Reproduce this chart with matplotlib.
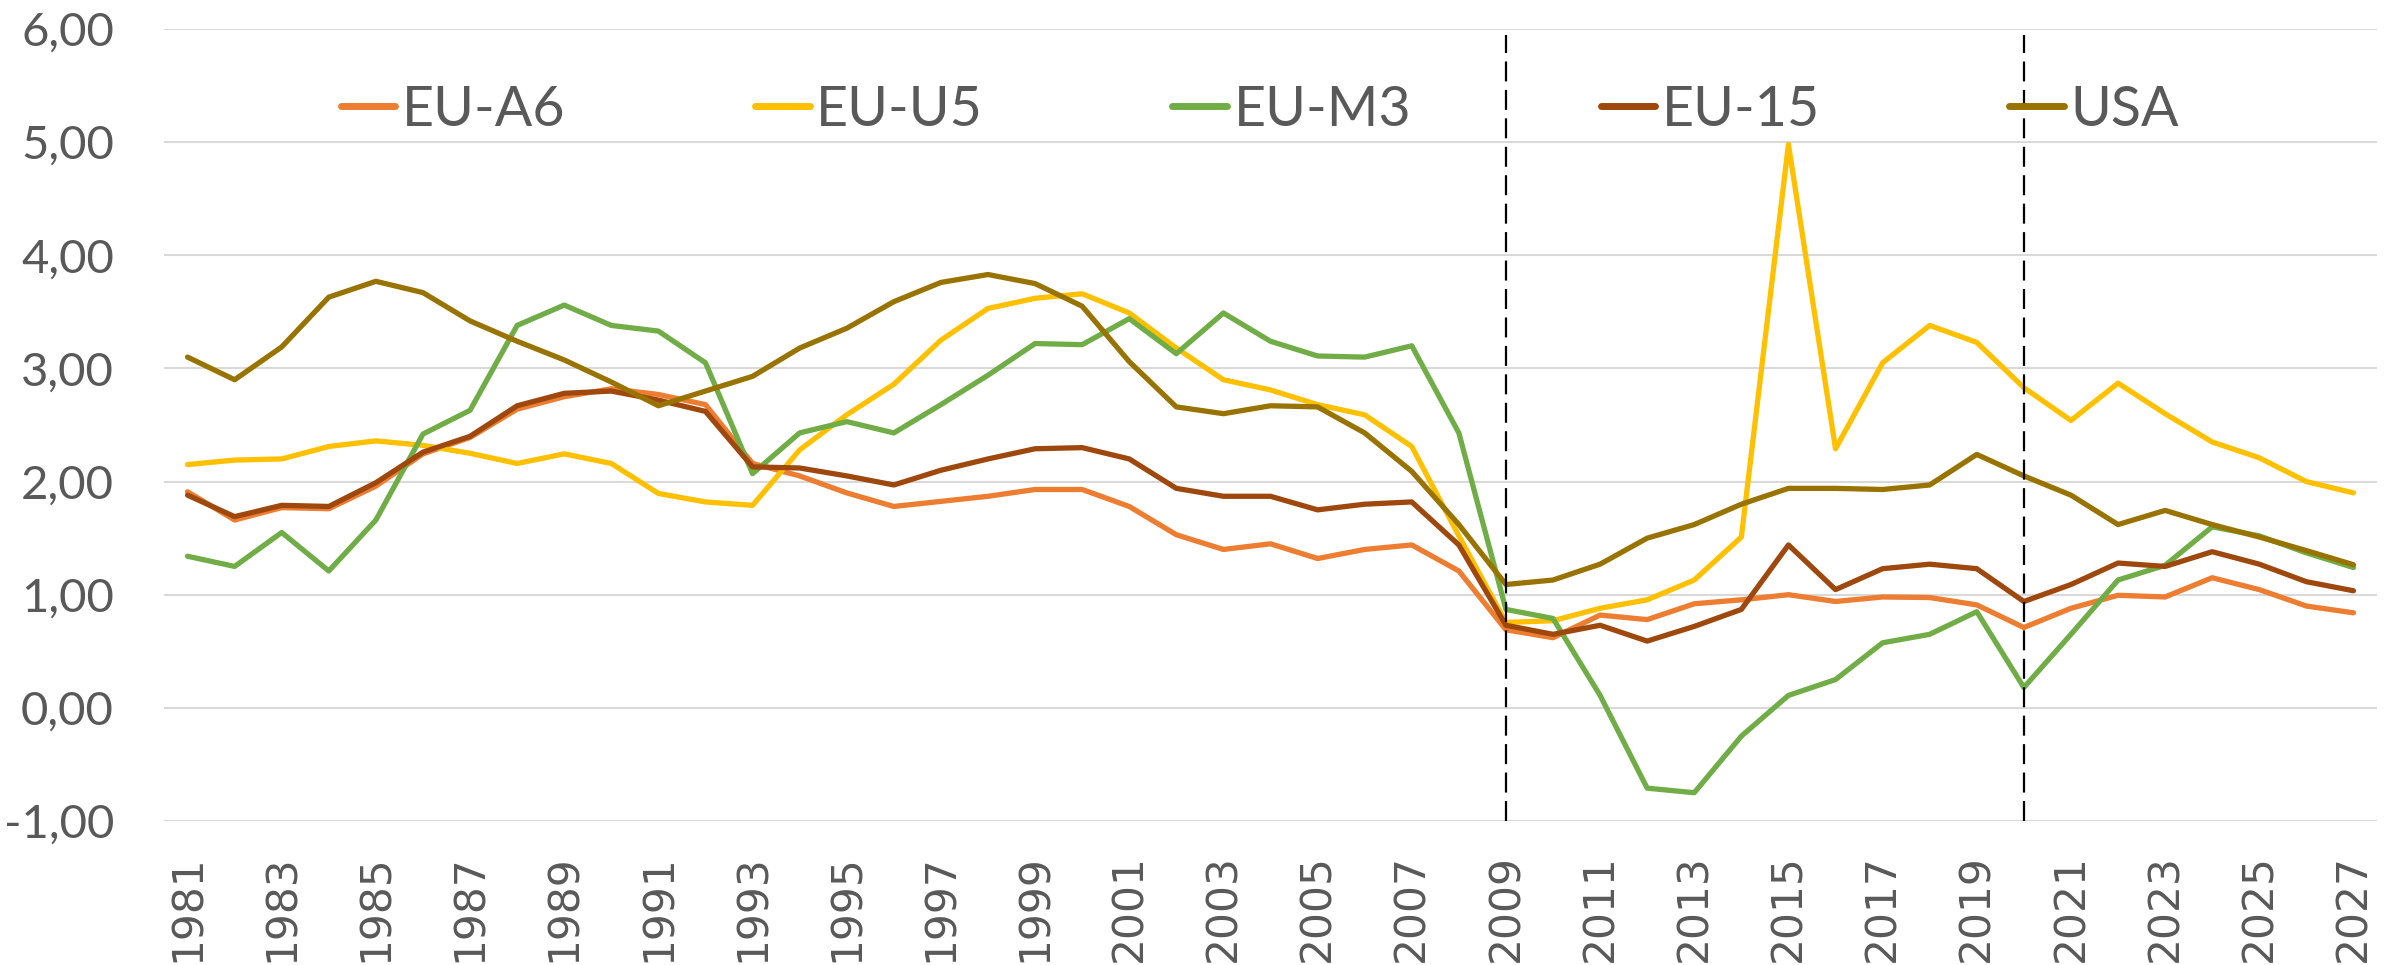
import matplotlib
matplotlib.use("Agg")
import matplotlib.pyplot as plt
from matplotlib.lines import Line2D

years = list(range(1981, 2028))

eu_a6 = [1.91, 1.66, 1.77, 1.76, 1.96, 2.245, 2.39, 2.64, 2.75, 2.82, 2.77, 2.68, 2.16, 2.05, 1.90,
         1.78, 1.825, 1.87, 1.93, 1.93, 1.78, 1.53, 1.40, 1.45, 1.32, 1.40, 1.44, 1.21, 0.69, 0.62,
         0.82, 0.78, 0.92, 0.955, 1.00, 0.94, 0.98, 0.975, 0.91, 0.71, 0.88, 0.995, 0.98, 1.15, 1.045,
         0.90, 0.84]
eu_u5 = [2.15, 2.19, 2.20, 2.31, 2.36, 2.32, 2.25, 2.16, 2.245, 2.16, 1.895, 1.82, 1.79, 2.28, 2.59,
         2.86, 3.25, 3.53, 3.62, 3.66, 3.49, 3.18, 2.90, 2.81, 2.68, 2.59, 2.31, 1.52, 0.755, 0.77,
         0.88, 0.955, 1.13, 1.51, 4.98, 2.29, 3.05, 3.38, 3.23, 2.83, 2.54, 2.87, 2.60, 2.35, 2.21,
         2.00, 1.90]
eu_m3 = [1.34, 1.25, 1.55, 1.21, 1.66, 2.42, 2.63, 3.38, 3.56, 3.38, 3.33, 3.05, 2.07, 2.43, 2.53,
         2.43, 2.68, 2.94, 3.22, 3.21, 3.44, 3.13, 3.49, 3.24, 3.11, 3.10, 3.20, 2.43, 0.87, 0.79,
         0.11, -0.71, -0.75, -0.25, 0.11, 0.25, 0.575, 0.65, 0.85, 0.18, 0.65, 1.13, 1.26, 1.60, 1.52,
         1.37, 1.24]
eu_15 = [1.88, 1.69, 1.79, 1.78, 1.99, 2.26, 2.40, 2.67, 2.78, 2.80, 2.72, 2.62, 2.13, 2.12, 2.05,
         1.97, 2.10, 2.20, 2.29, 2.30, 2.20, 1.94, 1.87, 1.87, 1.75, 1.80, 1.82, 1.44, 0.73, 0.65,
         0.73, 0.59, 0.72, 0.87, 1.44, 1.045, 1.23, 1.27, 1.23, 0.94, 1.09, 1.28, 1.25, 1.38, 1.27,
         1.115, 1.035]
usa = [3.10, 2.90, 3.19, 3.63, 3.77, 3.67, 3.42, 3.24, 3.075, 2.88, 2.67, 2.80, 2.93, 3.18, 3.355,
       3.59, 3.76, 3.83, 3.75, 3.55, 3.06, 2.66, 2.60, 2.67, 2.66, 2.43, 2.09, 1.62, 1.09, 1.13,
       1.27, 1.50, 1.62, 1.80, 1.94, 1.94, 1.93, 1.97, 2.24, 2.05, 1.88, 1.62, 1.745, 1.62, 1.51,
       1.39, 1.265]

series_names = ["EU-A6", "EU-U5", "EU-M3", "EU-15", "USA"]
series_colors = ["#ED7D31", "#FFC000", "#70AD47", "#9E480E", "#997300"]

y_ticks = [-1, 0, 1, 2, 3, 4, 5, 6]
y_tick_labels = ["-1,00", "0,00", "1,00", "2,00", "3,00", "4,00", "5,00", "6,00"]
x_ticks = list(range(1981, 2028, 2))
x_tick_labels = [str(y) for y in x_ticks]
marker_years = [2009, 2020]

W, H, DPI = 2397, 965, 100
fig = plt.figure(figsize=(W / DPI, H / DPI), dpi=DPI)
ax = fig.add_axes([164 / W, 1 - 821 / H, (2377 - 164) / W, (821 - 29) / H])

for vals, name, col in zip([eu_a6, eu_u5, eu_m3, eu_15, usa], series_names, series_colors):
    ax.plot(years, vals, color=col, lw=3.8, label=name,
            solid_joinstyle="round", solid_capstyle="round", zorder=3)

ax.vlines(marker_years, -1, 5.95, colors="black", lw=1.6,
          linestyles=[(0, (9, 3.8))], zorder=5)

ax.set_xlim(1980.5, 2027.5)
ax.set_ylim(-1, 6)
ax.set_yticks(y_ticks)
ax.set_yticklabels(y_tick_labels)
ax.set_xticks(x_ticks)
ax.set_xticklabels(x_tick_labels, rotation=90)

ax.grid(axis="y", color="#D9D9D9", lw=1.5, zorder=0)
ax.set_axisbelow(True)
for s in ax.spines.values():
    s.set_visible(False)

ax.tick_params(axis="y", length=0, pad=36, labelsize=34, labelcolor="#595959")
ax.tick_params(axis="x", length=0, pad=24, labelsize=30.5, labelcolor="#595959")
for t in ax.get_yticklabels():
    t.set_fontfamily("Lato")
for t in ax.get_xticklabels():
    t.set_fontfamily("DejaVu Sans")

handles = [Line2D([0], [0], color=c, lw=5, solid_capstyle="round") for c in series_colors]
leg = fig.legend(handles, series_names, ncol=5, loc="center left",
                 bbox_to_anchor=(341 / W, 1 - 110 / H), frameon=False,
                 prop={"family": "Lato", "size": 40},
                 handlelength=0.98, handletextpad=0.12, columnspacing=3.41,
                 borderpad=0, borderaxespad=0)
for t in leg.get_texts():
    t.set_color("#595959")

fig.savefig("out.png", dpi=DPI)
